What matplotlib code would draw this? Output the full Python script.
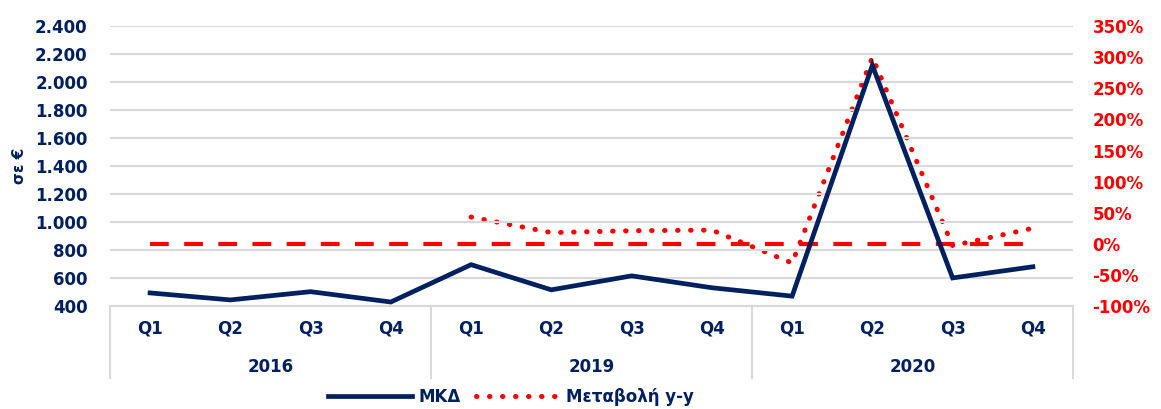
import numpy as np
import matplotlib.pyplot as plt
from matplotlib.lines import Line2D

plt.rcParams['font.family'] = ['DejaVu Sans']

years = ['2016', '2019', '2020']
quarters = ['Q1', 'Q2', 'Q3', 'Q4']
mkd = [493, 443, 502, 428, 695, 515, 615, 530, 470, 2120, 600, 680]
yy = [None, None, None, None, 43, 18, 21, 22, -31, 300, -3, 25]
zero_line = [0] * 12

navy = '#002060'
red = '#FF0000'
grid_c = '#D9D9D9'
fs = 12

fig = plt.figure(figsize=(11.61, 4.09), dpi=100)
ax = fig.add_axes([0.0947, 0.252, 0.8295, 0.684])
ax2 = ax.twinx()

x = np.arange(len(mkd))
ax.set_xlim(-0.5, len(mkd) - 0.5)
ax.set_ylim(400, 2400)
ax.set_yticks(range(400, 2401, 200))
ax.set_yticklabels([f'{v:,}'.replace(',', '.') for v in range(400, 2401, 200)])
ax.grid(axis='y', color=grid_c, linewidth=1.5)
ax.set_axisbelow(True)
for s in ['top', 'left', 'right']:
    ax.spines[s].set_visible(False)
    ax2.spines[s].set_visible(False)
ax.spines['bottom'].set_color(grid_c)
ax.spines['bottom'].set_linewidth(1.5)
ax2.spines['bottom'].set_visible(False)
ax.tick_params(axis='y', length=0, colors=navy, labelsize=fs, pad=16)
ax.set_xticks([])
for t in ax.get_yticklabels():
    t.set_fontweight('bold')
ax.set_ylabel('σε €', color=navy, fontsize=fs - 1, fontweight='bold', labelpad=6)

ax2.set_ylim(-100, 350)
ax2.set_yticks(range(-100, 351, 50))
ax2.set_yticklabels([f'{v}%' for v in range(-100, 351, 50)])
ax2.tick_params(axis='y', length=0, colors=red, labelsize=fs, pad=14)
for t in ax2.get_yticklabels():
    t.set_fontweight('bold')

ax2.plot(x, zero_line, color=red, linewidth=3, linestyle=(0, (4.5, 3.7)), zorder=2)
yy_arr = np.array([np.nan if v is None else v for v in yy], dtype=float)
ax2.plot(x, yy_arr, color=red, linewidth=3.6, linestyle=(0, (0.1, 2.5)),
         dash_capstyle='round', zorder=3)
ax.set_zorder(ax2.get_zorder() + 1)
ax.patch.set_visible(False)
ax.plot(x, mkd, color=navy, linewidth=3.4, solid_joinstyle='miter', zorder=4)

# multi-level category axis
tr = ax.get_xaxis_transform()
for i in range(len(mkd)):
    ax.text(i, -0.079, quarters[i % 4], transform=tr, ha='center', va='center',
            color=navy, fontsize=fs, fontweight='bold')
for j, yr in enumerate(years):
    ax.text(j * 4 + 1.5, -0.218, yr, transform=tr, ha='center', va='center',
            color=navy, fontsize=fs, fontweight='bold')
for b in [-0.5, 3.5, 7.5, 11.5]:
    ax.plot([b, b], [0, -0.257], transform=tr, color=grid_c, linewidth=1.5,
            clip_on=False)

handles = [Line2D([], [], color=navy, linewidth=3.4),
           Line2D([], [], color=red, linewidth=3.6, linestyle=(0, (0.1, 2.5)),
                  dash_capstyle='round')]
leg = fig.legend(handles, ['ΜΚΔ', 'Μεταβολή y-y'], loc='center',
                 bbox_to_anchor=(0.44, 0.03), ncol=2, frameon=False,
                 handlelength=5.0, columnspacing=0.9, handletextpad=0.4,
                 prop={'weight': 'bold', 'size': fs})
for t in leg.get_texts():
    t.set_color(navy)

fig.savefig('out.png', dpi=100)
